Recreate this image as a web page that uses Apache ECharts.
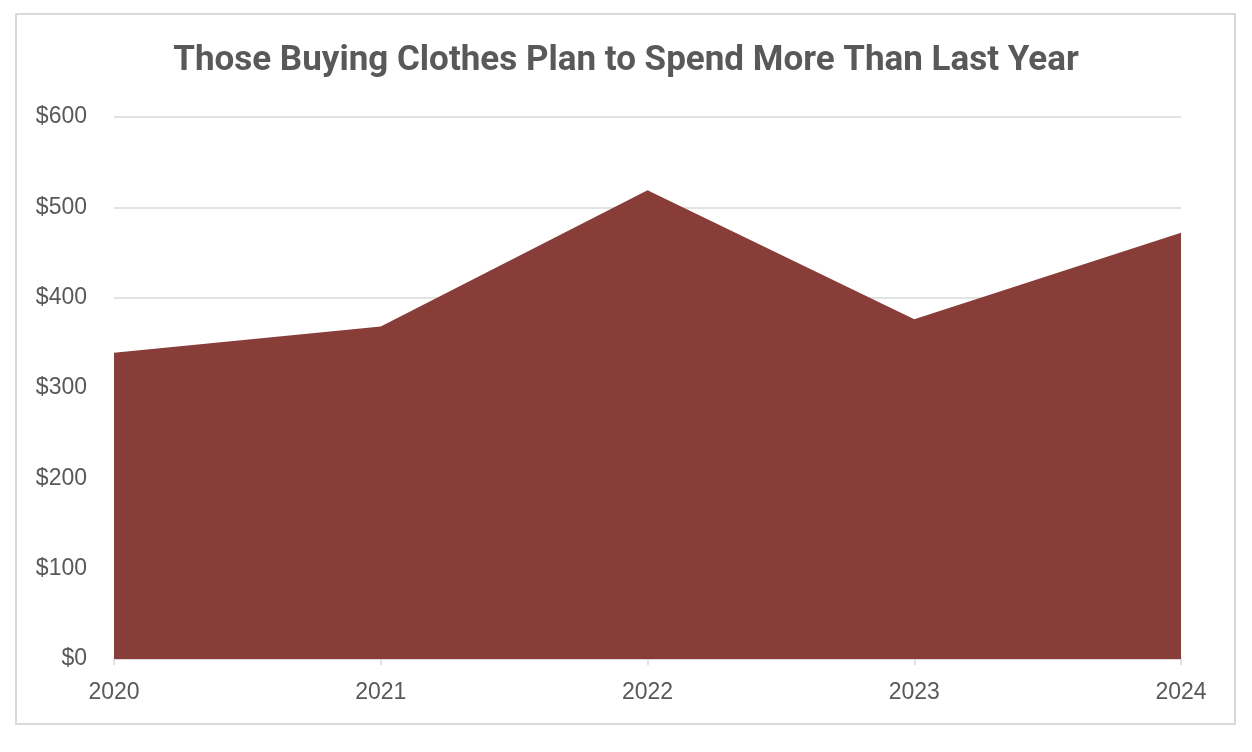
<!DOCTYPE html>
<html><head><meta charset="utf-8">
<script src="https://cdn.jsdelivr.net/npm/echarts@6/dist/echarts.min.js"></script>
<style>html,body{margin:0;padding:0;background:#fff}
#frame{position:absolute;left:15px;top:13px;width:1221px;height:712px;border:2px solid #d9d9d9;box-sizing:border-box}
#c{position:absolute;left:0;top:0;width:1252px;height:752px}</style>
</head><body><div id="frame"></div><div id="c"></div>
<script>
const title = 'Those Buying Clothes Plan to Spend More Than Last Year';
const years = ['2020', '2021', '2022', '2023', '2024'];
const spend = [339, 368, 519, 376, 472];

const chart = echarts.init(document.getElementById('c'));
chart.setOption({
  animation: false,
  title: {
    text: title, left: 'center', top: 39,
    textStyle: { fontFamily: 'Roboto', fontWeight: 'bold', fontSize: 35, color: '#595959' }
  },
  grid: { left: 114, right: 71, top: 117, bottom: 93 },
  xAxis: {
    type: 'category', data: years, boundaryGap: false,
    axisLine: { lineStyle: { color: '#d9d9d9', width: 1.5 } },
    axisTick: { show: true, length: 6, lineStyle: { color: '#d9d9d9', width: 1.5 } },
    axisLabel: { fontFamily: 'Liberation Sans', fontSize: 23, color: '#595959', margin: 22 }
  },
  yAxis: {
    type: 'value', min: 0, max: 600, interval: 100,
    axisLine: { show: false }, axisTick: { show: false },
    splitLine: { lineStyle: { color: '#d9d9d9', width: 1.5 } },
    axisLabel: { fontFamily: 'Liberation Sans', fontSize: 23, color: '#595959', margin: 27,
      formatter: v => '$' + v }
  },
  series: [{
    type: 'line', data: spend, symbol: 'none',
    lineStyle: { width: 0 },
    areaStyle: { color: '#893D39', opacity: 1 }
  }]
});
</script></body></html>
